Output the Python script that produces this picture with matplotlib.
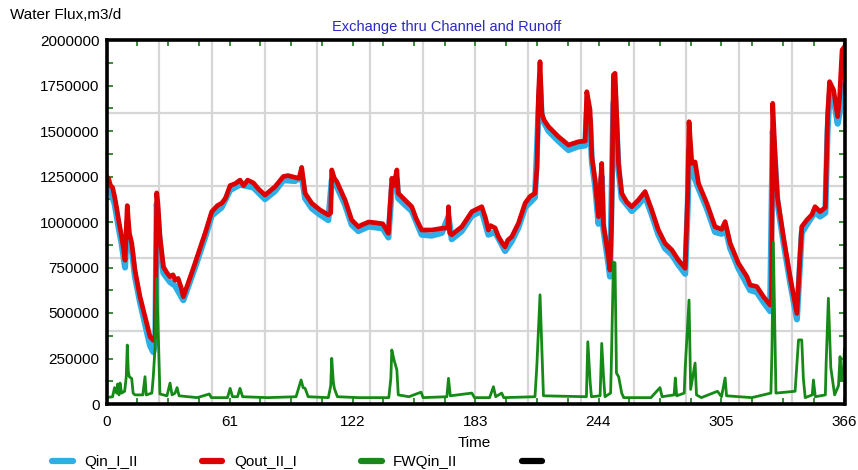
import numpy as np
import matplotlib
matplotlib.use("Agg")
import matplotlib.pyplot as plt
from matplotlib.lines import Line2D
from matplotlib.ticker import MultipleLocator

plt.rcParams['font.family'] = ['Liberation Sans', 'DejaVu Sans']

# Qout_II_I : channel outflow, m3/d
qout_day = [0, 1, 2, 3, 4, 5, 6, 7.5, 8.5, 9.2, 10.3, 11.3, 12.5, 14.1, 16.6, 19.1, 21.6, 23.2, 24.2,
            24.9, 25.5, 26.5, 28.2, 30, 31.5, 33, 34, 35.5, 37, 38.1, 41, 43.9, 46.5, 48.9, 52.2, 55,
            57.1, 59, 61.3, 63.7, 66.2, 68, 70, 72.8, 75.5, 78.6, 81, 83.6, 87.7, 90, 93.5, 95.5, 96.8,
            98.5, 101.8, 105.9, 110, 111.2, 111.7, 113, 114.2, 118.3, 121.6, 124.9, 126.6, 130, 134,
            137, 139.8, 141.5, 142.5, 144, 144.7, 148, 151.4, 153.5, 156.3, 161.3, 166.3, 169.3, 169.6,
            170.2, 171.2, 176.2, 181.2, 186.1, 188, 189.4, 190.5, 192.7, 194.4, 196.5, 197.7, 199, 201,
            204.3, 207.6, 210, 212.5, 213.5, 214.2, 215, 215.9, 217, 219.2, 224.1, 229.1, 234, 237.4,
            238.2, 239.8, 240.7, 242.3, 244, 245.6, 246.4, 248.9, 249.7, 250.5, 251.4, 252.2, 253.9,
            255.5, 258, 260.5, 263.8, 267.1, 270.4, 273.7, 277, 280.4, 283.6, 287, 288.3, 288.9, 290.3,
            291.9, 293.6, 297.7, 301.8, 305.1, 306.8, 309.3, 313.4, 317.6, 319.2, 322.5, 325.8, 329.1,
            329.8, 330.4, 331.6, 332.7, 335.7, 339, 342.4, 344, 344.8, 347.3, 349.8, 351.4, 353.9,
            356.5, 357.6, 358.6, 360.6, 362.6, 363.6, 364.8, 366]
qout_val = [1250000, 1240000, 1200000, 1190000, 1140000, 1080000, 1010000, 920000, 850000, 790000,
            1090000, 940000, 885000, 736000, 590000, 480000, 370000, 350000, 380000,
            1160000, 1100000, 920000, 754000, 720000, 700000, 710000, 680000, 690000, 640000, 590000,
            680000, 773000, 860000, 938000, 1057000, 1090000,
            1103000, 1130000, 1200000, 1210000, 1230000, 1200000, 1230000, 1215000, 1180000, 1148000,
            1170000, 1194000, 1250000, 1255000, 1245000, 1240000, 1300000,
            1158000, 1103000, 1066000, 1039000, 1050000, 1286000, 1240000, 1222000, 1121000, 1011000,
            974000, 984000, 1000000, 995000,
            990000, 938000, 1240000, 1200000, 1286000, 1158000, 1121000, 1084000, 1020000, 956000,
            956000, 965000, 968000, 1084000,
            940000, 930000, 974000, 1057000, 1084000, 1020000, 956000, 980000, 967000, 919000, 880000,
            864000, 900000, 919000,
            993000, 1103000, 1140000, 1158000, 1300000, 1689000, 1881000, 1597000, 1560000, 1524000,
            1469000, 1423000, 1441000, 1445000,
            1716000, 1616000, 1359000, 1231000, 1029000, 1322000, 990000, 809000, 736000, 1000000,
            1808000, 1817000, 1322000,
            1158000, 1110000, 1084000, 1121000, 1167000, 1066000, 956000, 883000, 846000, 791000,
            746000, 1176000, 1551000, 1322000,
            1330000, 1212000, 1103000, 974000, 960000, 1002000, 883000, 773000, 700000, 654000, 645000,
            590000, 544000,
            560000, 1652000, 1359000, 1139000, 919000, 700000, 498000, 828000, 974000, 1011000, 1040000,
            1084000, 1057000,
            1080000, 1579000, 1771000, 1725000, 1579000, 1689000, 1945000, 1963000]

# Qin_I_II : channel inflow, m3/d
qin_day = [0, 2, 4, 6, 7.5, 9.2, 10.3, 11.3, 12.5, 14.1, 16.6, 19.1, 21.6, 23.2, 24.2, 24.9, 26.5,
           28.2, 31.5, 34, 38.1, 43.9, 48.9, 52.2, 57.1, 61.3, 66.2, 72.8, 78.6, 83.6, 87.7, 93.5,
           96.8, 98.5, 101.8, 105.9, 110, 111.7, 114.2, 118.3, 121.6, 124.9, 130, 137, 139.8, 141.5,
           144, 144.7, 148, 151.4, 156.3, 161.3, 166.3, 169.6, 171.2, 176.2, 181.2, 186.1, 189.4,
           192.7, 197.7, 201, 204.3, 207.6, 212.5, 214.2, 215, 215.9, 219.2, 224.1, 229.1, 234,
           237.4, 238.2, 239.8, 240.7, 242.3, 244, 245.6, 246.4, 248.9, 249.7, 251.4, 252.2, 253.9,
           255.5, 260.5, 263.8, 267.1, 270.4, 273.7, 277, 280.4, 283.6, 287, 288.3, 288.9, 290.3,
           293.6, 297.7, 301.8, 305.1, 306.8, 309.3, 313.4, 319.2, 322.5, 325.8, 329.1, 330.4,
           331.6, 332.7, 335.7, 339, 342.4, 344, 344.8, 347.3, 351.4, 353.9, 356.5, 357.6, 358.6,
           360.6, 362.6, 363.6, 364.8, 366]
qin_val = [1220000, 1170000, 1100000, 970000, 880000, 750000, 1000000, 900000, 850000, 700000,
           560000, 440000, 320000, 285000, 340000, 1100000, 880000,
           720000, 670000, 650000, 570000, 750000, 915000, 1035000, 1080000, 1175000, 1205000,
           1190000, 1125000, 1170000, 1230000, 1225000,
           1250000, 1130000, 1075000, 1040000, 1010000, 1230000, 1195000, 1095000, 985000, 950000,
           975000, 965000, 915000, 1180000,
           1230000, 1130000, 1095000, 1060000, 930000, 925000, 940000, 1030000, 905000, 950000,
           1035000, 1060000, 930000,
           945000, 840000, 895000, 970000, 1080000, 1135000, 1600000, 1750000, 1570000, 1500000,
           1445000, 1395000, 1415000,
           1420000, 1600000, 1560000, 1330000, 1200000, 990000, 1250000, 960000, 770000, 700000,
           1650000, 1700000, 1290000,
           1130000, 1060000, 1095000, 1140000, 1040000, 930000, 855000, 820000, 765000, 715000,
           1100000, 1400000, 1280000,
           1185000, 1075000, 945000, 935000, 975000, 855000, 745000, 625000, 615000, 560000, 510000,
           1500000,
           1320000, 1110000, 890000, 670000, 465000, 780000, 940000, 985000, 1055000, 1030000,
           1050000, 1500000, 1700000,
           1680000, 1540000, 1600000, 1700000, 1750000]

# FWQin_II : freshwater runoff, m3/d
fw_day = [0, 3, 4, 5, 5.5, 6.2, 6.7, 7.5, 9, 9.8, 10.3, 10.8, 11.3, 12.5, 13.2, 14.1, 18, 19.1, 19.7,
          22.5, 23.2, 24.1, 24.9, 25.7, 26.5, 30, 31.5, 32.5, 34, 35, 36, 45, 51, 52, 60, 61.3, 62.5,
          65, 66.2, 67.5, 80, 94, 96.5, 97.5, 98.5, 100, 110, 111.2, 111.7, 112.5, 113, 114.5, 125,
          140, 141, 141.5, 142.6, 144, 144.7, 150, 156, 157, 168.8, 169.6, 170.5, 181.2, 182.5, 190,
          191.9, 193, 196, 197, 212.5, 213.4, 215, 215.9, 216.7, 238, 238.7, 239.9, 240.5, 244.8,
          245.6, 246.5, 247.2, 250, 250.3, 251.4, 252.2, 252.9, 254, 255.5, 256.5, 270, 274.5, 275.5,
          281.5, 282.1, 282.8, 286.5, 287, 288.9, 289.7, 291.9, 292.6, 295, 303, 305, 306.8, 307.5,
          320, 329.5, 330, 330.7, 332, 341.5, 343.2, 344.8, 345.6, 346.5, 350, 350.6, 351.5, 356.5,
          356.9, 358, 359.2, 361.1, 363, 363.8, 364.5, 365.5, 366]
fw_val = [35000, 40000, 90000, 60000, 110000, 50000, 115000, 60000, 70000, 150000, 324000, 180000,
          150000, 140000, 60000, 50000, 50000, 150000, 50000,
          60000, 150000, 315000, 690000, 370000, 55000, 45000, 115000, 50000, 60000, 90000, 45000,
          35000, 55000, 35000, 35000, 86000, 40000,
          40000, 86000, 40000, 35000, 40000, 132000, 90000, 86000, 40000, 35000, 100000, 251000,
          120000, 86000, 40000, 35000,
          35000, 140000, 297000, 242000, 187000, 50000, 40000, 65000, 35000, 40000, 141000, 45000,
          60000, 35000, 35000,
          95000, 40000, 60000, 35000, 40000, 205000, 600000, 315000, 45000, 40000, 342000, 114000,
          40000, 45000,
          333000, 150000, 40000, 60000, 187000, 780000, 775000, 170000, 150000, 60000, 35000, 35000,
          90000, 40000,
          50000, 143000, 45000, 60000, 198000, 571000, 80000, 225000, 50000, 35000, 70000, 40000,
          143000, 45000,
          35000, 60000, 280000, 890000, 60000, 70000, 352000, 352000, 140000, 35000, 50000, 132000,
          40000, 50000,
          225000, 581000, 200000, 50000, 100000, 260000, 130000, 200000, 300000]

x_ticks = [0, 61, 122, 183, 244, 305, 366]

BLUE = '#2eaee6'
RED = '#dd0000'
GREEN = '#168a16'
TICK = '#3a8a3a'
GRID = '#d6d6d6'

fig = plt.figure(figsize=(8.58, 4.70), dpi=100)
W, H = 858, 470
ax = fig.add_axes([106.5 / W, 1 - 404 / H, 738 / W, 364 / H])

# light grid: 14 columns, 5 rows
for gx in np.arange(1, 14) * 366 / 14:
    ax.axvline(gx, color=GRID, lw=1.6, zorder=0)
for gy in [400000, 800000, 1200000, 1600000]:
    ax.axhline(gy, color=GRID, lw=1.6, zorder=0)

ax.plot(qin_day, qin_val, color=BLUE, lw=4.4, solid_joinstyle='round', zorder=2)
ax.plot(qout_day, qout_val, color=RED, lw=3.4, solid_joinstyle='round', zorder=3)
ax.plot(fw_day, fw_val, color=GREEN, lw=2.0, solid_joinstyle='round', zorder=4)

ax.set_xlim(0, 366)
ax.set_ylim(0, 2000000)
ax.set_xticks(x_ticks)
ax.xaxis.set_minor_locator(MultipleLocator(15.25))
ax.yaxis.set_major_locator(MultipleLocator(250000))
ax.yaxis.set_minor_locator(MultipleLocator(125000))
ax.tick_params(which='both', direction='in', length=4, width=1.4, color=TICK,
               top=True, right=True, labelsize=11)
ax.tick_params(axis='x', pad=8)
ax.tick_params(axis='y', pad=5)
ax.yaxis.set_major_formatter(plt.FuncFormatter(lambda v, p: '%d' % v))

for s in ax.spines.values():
    s.set_linewidth(2.6)
    s.set_color('black')
    s.set_zorder(6)

fig.text(10 / W, 1 - 15 / H, 'Water Flux,m3/d', ha='left', va='center', fontsize=11)
fig.text(447 / W, 1 - 27 / H, 'Exchange thru Channel and Runoff', ha='center', va='center',
         fontsize=10.5, color='#2a2ac4')
fig.text(474 / W, 1 - 443 / H, 'Time', ha='center', va='center', fontsize=11)

handles = [Line2D([], [], color=c, lw=4.5, solid_capstyle='round')
           for c in (BLUE, RED, GREEN, 'black')]
labels = ['Qin_I_II', 'Qout_II_I', 'FWQin_II', '']
fig.legend(handles, labels, loc='center left', bbox_to_anchor=(52 / W, 1 - 462 / H),
           ncol=4, frameon=False, fontsize=11, handlelength=1.35, handletextpad=0.75,
           columnspacing=4.2, borderpad=0, borderaxespad=0)

fig.savefig('out.png', dpi=100)
